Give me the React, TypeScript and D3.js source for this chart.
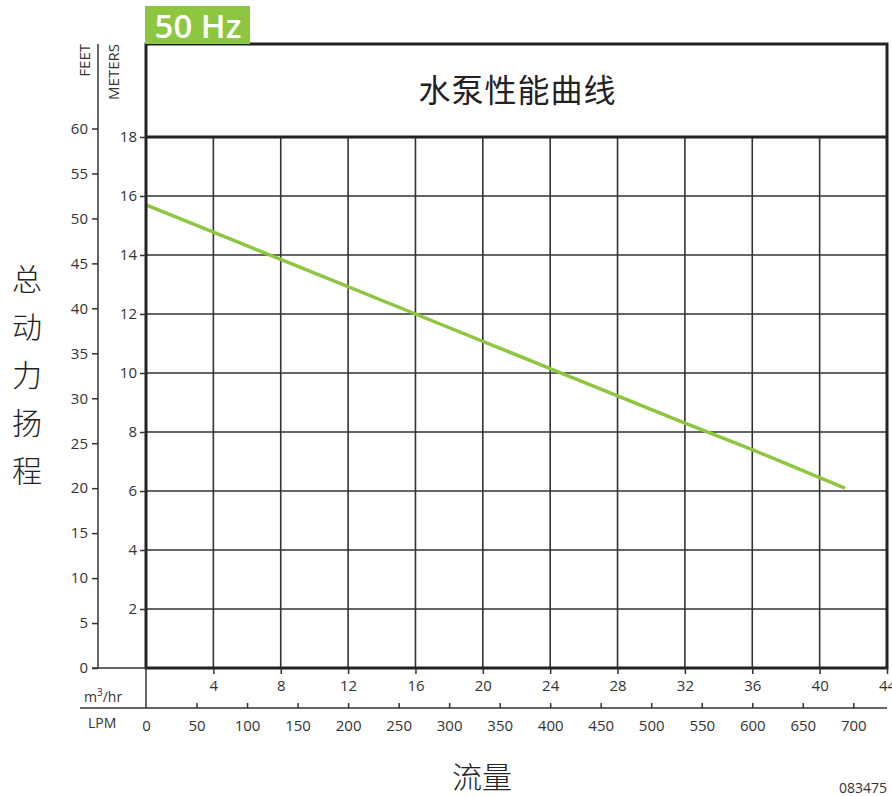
import React, { useEffect, useRef } from 'react';
import * as d3 from 'd3';

// pump curve (flow m3/hr vs head in meters)
const flowM3 = [0, 8, 16, 24, 32, 36, 41.5];
const headM = [15.7, 13.85, 12.0, 10.15, 8.3, 7.4, 6.1];

const meterTicks = [2, 4, 6, 8, 10, 12, 14, 16, 18];
const feetTicks = [0, 5, 10, 15, 20, 25, 30, 35, 40, 45, 50, 55, 60];
const m3Ticks = [4, 8, 12, 16, 20, 24, 28, 32, 36, 40, 44];
const lpmTicks = [0, 50, 100, 150, 200, 250, 300, 350, 400, 450, 500, 550, 600, 650, 700];
const gridX = [4, 8, 12, 16, 20, 24, 28, 32, 36, 40];
const gridY = [2, 4, 6, 8, 10, 12, 14, 16];

const title = '水泵性能曲线';
const yTitle = ['总', '动', '力', '扬', '程'];
const xTitle = '流量';
const freqLabel = '50 Hz';
const docId = '083475';

const W = 892;
const H = 796;
const FONT = '"Open Sans", "DejaVu Sans", sans-serif';
const CJK = '"Noto Sans CJK SC", sans-serif';
const INK = '#333';
const GREEN = '#8dc63f';

export default function App() {
  const ref = useRef<SVGSVGElement>(null);

  useEffect(() => {
    if (!ref.current) return;
    const svg = d3.select(ref.current);
    svg.selectAll('*').remove();

    const left = 146, right = 887, top = 137, bottom = 668, boxTop = 44;
    const x = d3.scaleLinear().domain([0, 44]).range([left, right]);
    const y = d3.scaleLinear().domain([0, 18]).range([bottom, top]);
    const yFeet = d3.scaleLinear().domain([0, 18 / 0.3048]).range([bottom, top]);
    const xLpm = d3.scaleLinear().domain([0, (44 * 1000) / 60]).range([left, right]);
    const lpmY = 708;

    // grid
    const g = svg.append('g');
    g.selectAll('line.gx').data(gridX).join('line')
      .attr('x1', d => x(d)).attr('x2', d => x(d)).attr('y1', top).attr('y2', bottom)
      .attr('stroke', INK).attr('stroke-width', 1.6);
    g.selectAll('line.gy').data(gridY).join('line')
      .attr('x1', left).attr('x2', right).attr('y1', d => y(d)).attr('y2', d => y(d))
      .attr('stroke', INK).attr('stroke-width', 1.6);

    // curve
    const line = d3.line<number>().x((_, i) => x(flowM3[i])).y(d => y(d));
    svg.append('path').datum(headM)
      .attr('d', line).attr('fill', 'none').attr('stroke', GREEN)
      .attr('stroke-width', 3.5).attr('stroke-linecap', 'butt');

    // frame
    svg.append('rect').attr('x', left).attr('y', boxTop).attr('width', right - left).attr('height', bottom - boxTop)
      .attr('fill', 'none').attr('stroke', '#222').attr('stroke-width', 3);
    svg.append('line').attr('x1', left).attr('x2', right).attr('y1', top).attr('y2', top)
      .attr('stroke', '#222').attr('stroke-width', 3);

    const styleAxis = (sel: d3.Selection<SVGGElement, unknown, null, undefined>) => {
      sel.select('.domain').remove();
      sel.selectAll('line').attr('stroke', INK).attr('stroke-width', 1.5);
      sel.selectAll('text').attr('fill', INK).attr('font-family', FONT).attr('font-size', 15);
    };

    // meters axis
    svg.append('g').attr('transform', `translate(${left},0)`)
      .call(d3.axisLeft(y).tickValues(meterTicks).tickSize(6).tickPadding(3).tickFormat(d3.format('d')))
      .call(styleAxis);

    // feet axis
    const feetX = 98;
    svg.append('line').attr('x1', feetX).attr('x2', feetX).attr('y1', boxTop).attr('y2', bottom)
      .attr('stroke', INK).attr('stroke-width', 1.5);
    svg.append('line').attr('x1', feetX - 6).attr('x2', left).attr('y1', bottom).attr('y2', bottom)
      .attr('stroke', INK).attr('stroke-width', 1.5);
    svg.append('g').attr('transform', `translate(${feetX},0)`)
      .call(d3.axisLeft(yFeet).tickValues(feetTicks).tickSize(6).tickPadding(4).tickFormat(d3.format('d')))
      .call(styleAxis);

    svg.append('text').attr('transform', `translate(${feetX - 8},${boxTop}) rotate(-90)`)
      .attr('text-anchor', 'end').attr('font-family', FONT).attr('font-size', 15).attr('fill', INK)
      .text('FEET');
    svg.append('text').attr('transform', `translate(${feetX + 21},${boxTop}) rotate(-90)`)
      .attr('text-anchor', 'end').attr('font-family', FONT).attr('font-size', 15).attr('fill', INK)
      .text('METERS');

    // m3/hr axis
    svg.append('g').attr('transform', `translate(0,${bottom})`)
      .call(d3.axisBottom(x).tickValues(m3Ticks).tickSize(6).tickPadding(6).tickFormat(d3.format('d')))
      .call(styleAxis);

    // LPM axis
    svg.append('line').attr('x1', left).attr('x2', left).attr('y1', bottom).attr('y2', lpmY)
      .attr('stroke', INK).attr('stroke-width', 1.5);
    svg.append('line').attr('x1', 80).attr('x2', right).attr('y1', lpmY).attr('y2', lpmY)
      .attr('stroke', INK).attr('stroke-width', 1.5);
    const lpmAxis = svg.append('g').attr('transform', `translate(0,${lpmY})`)
      .call(d3.axisBottom(xLpm).tickValues(lpmTicks).tickSize(-5).tickPadding(12).tickFormat(d3.format('d')))
      .call(styleAxis);
    lpmAxis.selectAll('.tick').filter(d => d === 0).select('line').remove();

    const m3 = svg.append('text').attr('x', 84).attr('y', 702)
      .attr('font-family', FONT).attr('font-size', 14).attr('fill', INK);
    m3.append('tspan').text('m');
    m3.append('tspan').attr('dy', -6).attr('font-size', 10).text('3');
    m3.append('tspan').attr('dy', 6).text('/hr');
    svg.append('text').attr('x', 88).attr('y', 728)
      .attr('font-family', FONT).attr('font-size', 14).attr('fill', INK).text('LPM');

    // titles
    svg.append('text').attr('x', (left + right) / 2 + 1).attr('y', 102)
      .attr('text-anchor', 'middle').attr('font-family', CJK).attr('font-size', 32)
      .attr('letter-spacing', 1).attr('fill', '#222').text(title);

    svg.selectAll('text.ychar').data(yTitle).join('text')
      .attr('x', 27).attr('y', (_, i) => 290 + i * 48)
      .attr('text-anchor', 'middle').attr('font-family', CJK).attr('font-size', 30)
      .attr('font-weight', 300).attr('fill', '#222').text(d => d);

    svg.append('text').attr('x', 482).attr('y', 788)
      .attr('text-anchor', 'middle').attr('font-family', CJK).attr('font-size', 30)
      .attr('font-weight', 300).attr('fill', '#222').text(xTitle);

    svg.append('text').attr('x', 887).attr('y', 793)
      .attr('text-anchor', 'end').attr('font-family', FONT).attr('font-size', 14)
      .attr('fill', INK).text(docId);

    // 50 Hz badge
    svg.append('rect').attr('x', 145).attr('y', 6).attr('width', 105).attr('height', 38).attr('fill', GREEN);
    svg.append('text').attr('x', 198).attr('y', 38)
      .attr('text-anchor', 'middle').attr('font-family', FONT).attr('font-size', 33)
      .attr('font-weight', 600).attr('fill', '#fff').text(freqLabel);
  }, []);

  return (
    <svg ref={ref} width={W} height={H}
      style={{ position: 'absolute', left: 0, top: 0, background: '#fff' }} />
  );
}
